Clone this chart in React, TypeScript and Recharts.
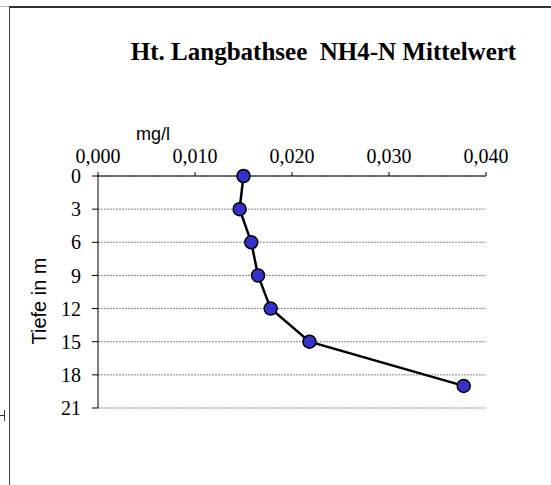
import { LineChart, Line, XAxis, YAxis, CartesianGrid } from 'recharts';

// depth profile, NH4-N mean values in mg/l
const DEPTHS = [0, 3, 6, 9, 12, 15, 19];
const NH4_VALUES = [0.015, 0.0146, 0.0158, 0.0165, 0.0178, 0.0218, 0.0377];
const X_TICKS = [0, 0.01, 0.02, 0.03, 0.04];
const DEPTH_TICKS = [0, 3, 6, 9, 12, 15, 18, 21];

const rows = DEPTHS.map((depth, i) => ({ depth, nh4: NH4_VALUES[i] }));

const serif = '"Liberation Serif", "Times New Roman", serif';
const sans = '"Liberation Sans", Arial, sans-serif';

const fmt = (v: number) => v.toFixed(3).replace('.', ',');

export default function App() {
  return (
    <div style={{ position: 'absolute', left: 0, top: 0, width: 551, height: 485, background: '#fff', overflow: 'hidden' }}>
      {/* frame remains from the sheet */}
      <div style={{ position: 'absolute', left: 0, top: 6, width: 9, height: 0, borderTop: '1px solid #bbb' }} />
      <div style={{ position: 'absolute', left: 9, top: 6, width: 542, height: 0, borderTop: '2px solid #333' }} />
      <div style={{ position: 'absolute', left: 9, top: 7, width: 0, height: 478, borderLeft: '1.5px solid #444' }} />
      <div style={{ position: 'absolute', left: 0, top: 415, width: 4, height: 0, borderTop: '1px solid #333' }} />
      <div style={{ position: 'absolute', left: 4, top: 410, width: 0, height: 11, borderLeft: '1px solid #333' }} />

      <div
        style={{
          position: 'absolute',
          left: 0,
          width: 647,
          top: 38,
          textAlign: 'center',
          fontFamily: serif,
          fontWeight: 'bold',
          fontSize: 25,
          whiteSpace: 'pre',
          color: '#000',
        }}
      >
        {'Ht. Langbathsee  NH4-N Mittelwert'}
      </div>
      <div style={{ position: 'absolute', left: 136, top: 124, fontFamily: sans, fontSize: 18, color: '#000' }}>
        mg/l
      </div>

      <LineChart
        layout="vertical"
        width={551}
        height={485}
        data={rows}
        margin={{ top: 156, right: 65, bottom: 77, left: 0 }}
      >
        <CartesianGrid vertical={false} stroke="#8a8a8a" strokeDasharray="2 1" />
        <XAxis
          type="number"
          orientation="top"
          domain={[0, 0.04]}
          ticks={X_TICKS}
          tickFormatter={fmt}
          height={20}
          tickSize={4}
          tickMargin={9}
          stroke="#000"
          tick={{ fill: '#000', fontFamily: serif, fontSize: 20 }}
        />
        <YAxis
          type="number"
          dataKey="depth"
          domain={[0, 21]}
          ticks={DEPTH_TICKS}
          width={98}
          tickSize={6}
          tickMargin={11}
          stroke="#000"
          tick={{ fill: '#000', fontFamily: serif, fontSize: 20 }}
          label={{
            value: 'Tiefe in m',
            angle: -90,
            position: 'insideLeft',
            offset: 39,
            dy: 9,
            style: { fontFamily: sans, fontSize: 20, fill: '#000', textAnchor: 'middle' },
          }}
        />
        <Line
          dataKey="nh4"
          stroke="#000"
          strokeWidth={2.5}
          dot={{ r: 6.5, fill: '#3333cc', stroke: '#000', strokeWidth: 1.5 }}
          isAnimationActive={false}
        />
      </LineChart>
    </div>
  );
}
